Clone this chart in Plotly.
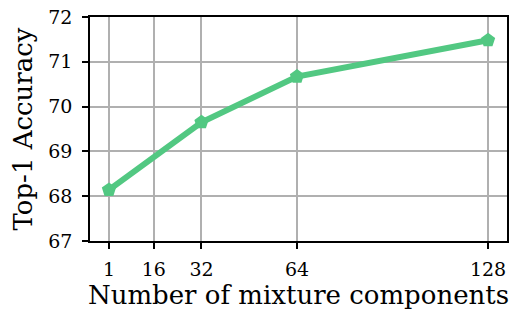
import plotly.graph_objects as go

components = [1, 32, 64, 128]
accuracy = [68.14, 69.65, 70.67, 71.48]
x_ticks = [1, 16, 32, 64, 128]
y_ticks = [67, 68, 69, 70, 71, 72]

fig = go.Figure()
fig.add_trace(go.Scatter(
    x=components, y=accuracy, mode="lines+markers",
    line=dict(color="#52c882", width=6),
    marker=dict(symbol="pentagon", size=15, color="#52c882"),
    showlegend=False,
))

font = "DejaVu Serif"
fig.update_layout(
    width=511, height=310,
    margin=dict(l=90, r=4, t=17, b=69, autoexpand=False),
    plot_bgcolor="white", paper_bgcolor="white",
    font=dict(family=font, color="black", size=20),
)
fig.update_xaxes(
    range=[-5.35, 134.35], tickvals=x_ticks, ticktext=[str(v) for v in x_ticks],
    showgrid=True, gridcolor="#b0b0b0", gridwidth=1.5,
    showline=True, linecolor="black", linewidth=1.5, mirror=True,
    ticks="outside", ticklen=6, tickwidth=1.5, tickcolor="black",
    tickfont=dict(size=19), zeroline=False, ticklabelstandoff=4,
    title=dict(text="Number of mixture components", font=dict(size=26), standoff=3),
)
fig.update_yaxes(
    range=[67, 72], tickvals=y_ticks,
    showgrid=True, gridcolor="#b0b0b0", gridwidth=1.5,
    showline=True, linecolor="black", linewidth=1.5, mirror=True,
    ticks="outside", ticklen=6, tickwidth=1.5, tickcolor="black",
    tickfont=dict(size=19), zeroline=False, ticklabelstandoff=6,
    title=dict(text="Top-1 Accuracy", font=dict(size=26), standoff=8),
)
fig.write_html("out.html", config={"displayModeBar": False},
               post_script="document.body.style.margin='0';")
